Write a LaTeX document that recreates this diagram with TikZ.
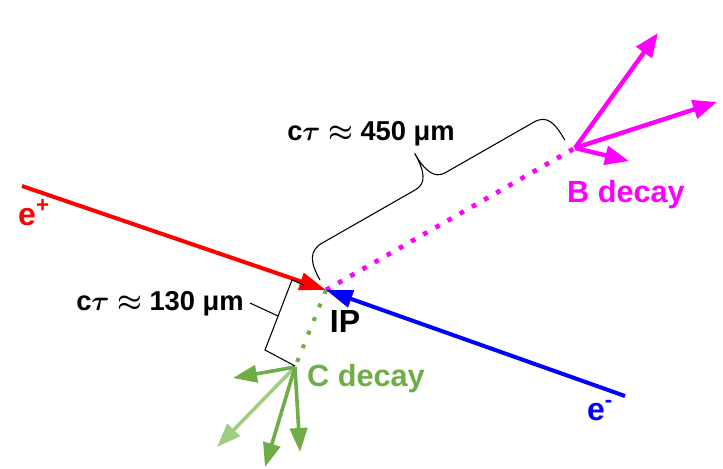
\documentclass[tikz,border=0pt]{standalone}
\usepackage{fontspec}
\setmainfont{Liberation Sans}
\usepackage{amsmath}
\usepackage{xcolor}
\usepackage{tikz}
\usetikzlibrary{arrows.meta}
\definecolor{bmagenta}{HTML}{FF00FF}
\definecolor{cgreen}{HTML}{70AD47}
\definecolor{clightgreen}{HTML}{9ECD84}

\begin{document}
\begin{tikzpicture}[x=0.75pt, y=-0.75pt,
    beam/.style={line width=3pt, -{Triangle[length=20pt, width=13pt]}},
    bprod/.style={bmagenta, line width=3.3pt, -{Triangle[length=18pt, width=14pt]}},
    cprod/.style={cgreen, line width=2.7pt, -{Triangle[length=18pt, width=13pt]}},
    flight/.style={line width=3.5pt, dash pattern=on 3.5pt off 7pt},
    lbl/.style={inner sep=0pt, anchor=base, font=\fontsize{24}{28}\selectfont\bfseries},
    ctlbl/.style={lbl, font=\fontsize{20.5}{24}\selectfont\bfseries}]
    \useasboundingbox (0,0) rectangle (723,468);
    % vertices and beam ends
    \coordinate (ip) at (326,290);
    \coordinate (bvtx) at (575,148);
    \coordinate (cvtx) at (295,367);
    \coordinate (eplus) at (22,186);
    \coordinate (eminus) at (625,396);
    % decay products
    \coordinate (bout1) at (658,33);
    \coordinate (bout2) at (717,102);
    \coordinate (bout3) at (629,161);
    \coordinate (cout1) at (233,378);
    \coordinate (cout2) at (217,447);
    \coordinate (cout3) at (265,467);
    \coordinate (cout4) at (300,452);

    % flight paths
    \draw[flight, bmagenta] (ip) -- (bvtx);
    \draw[flight, cgreen, line width=3pt, dash pattern=on 3pt off 8pt] (ip) -- (cvtx);

    % beams
    \draw[beam, red] (eplus) -- (ip);
    \draw[beam, blue] (eminus) -- (ip);

    % B decay
    \foreach \p in {bout1, bout2, bout3}
        \draw[bprod] (bvtx) -- (\p);

    % C decay
    \draw[cprod, clightgreen] (cvtx) -- (cout2);
    \foreach \p in {cout1, cout3, cout4}
        \draw[cprod] (cvtx) -- (\p);

    % brace for the B flight length
    \coordinate (bra) at (320,280);
    \begin{scope}[shift={(bra)}, rotate=29.74]
        \draw[line width=0.8pt] (0,0) .. controls (0,-20) and (5,-31) .. (20,-31)
            -- (128,-31) .. controls (140,-31) and (145,-42) .. (145,-63)
            .. controls (145,-42) and (150,-31) .. (162,-31)
            -- (264,-31) .. controls (279,-31) and (282,-20) .. (282,0);
    \end{scope}

    % bracket for the C flight length
    \coordinate (brk1) at (304,285);
    \coordinate (brk2) at (292,280);
    \coordinate (brk3) at (265,350);
    \coordinate (brk4) at (295,366);
    \coordinate (brkm) at (278,316);
    \coordinate (brkt) at (250,303);
    \draw[line width=0.8pt] (brk1) -- (brk2) -- (brk3) -- (brk4);
    \draw[line width=0.8pt] (brkm) -- (brkt);

    % labels
    \node[lbl, red] (lplus) at (34,225) {e\textsuperscript{+}};
    \node[lbl, blue] (lminus) at (600,420) {e\textsuperscript{-}};
    \node[lbl] (lip) at (345,332) {IP};
    \node[lbl, bmagenta, font=\fontsize{23}{28}\selectfont\bfseries] (lbdec) at (626,202) {B decay};
    \node[lbl, cgreen, font=\fontsize{23}{28}\selectfont\bfseries] (lcdec) at (366,386) {C decay};
    \node[ctlbl] (lct450) at (371,140) {c$\boldsymbol{\tau}$ $\boldsymbol{\approx}$ 450 μm};
    \node[ctlbl] (lct130) at (160,310) {c$\boldsymbol{\tau}$ $\boldsymbol{\approx}$ 130 μm};
\end{tikzpicture}
\end{document}
